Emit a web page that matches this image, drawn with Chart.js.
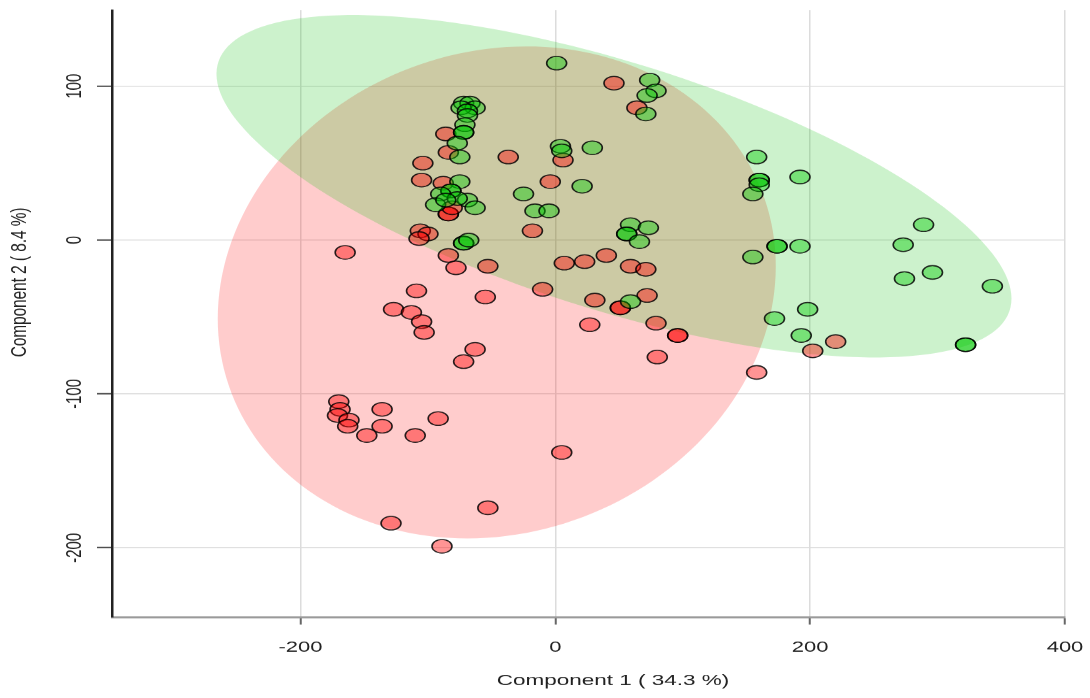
<!DOCTYPE html>
<html>
<head>
<meta charset="utf-8">
<script src="https://cdn.jsdelivr.net/npm/chart.js@4.4.0/dist/chart.umd.min.js"></script>
<style>
    html, body { margin: 0; padding: 0; overflow: hidden; background: #fff; }
    #wrap { width: 1090px; height: 698px; overflow: hidden; }
    /* the reference picture is squashed vertically, so draw tall and squash */
    #pca { display: block; transform: scaleY(0.6803); transform-origin: 0 0; }
</style>
</head>
<body>
<div id="wrap"><canvas id="pca" width="1090" height="1026"></canvas></div>
<script>
// PCA scores, two groups
const redX = [-165, -127, -170, -169, -171, -162, -163, -148, -136, -136, -129, -109, -55, -10, 31, 51, 51, 72, 27, 79,
    96, 96, 80, 158, -113, -105, -103, -63, -72, -92, -110, 5, -53, -89, 202, 220, 46, 64, -86, -84,
    -104, -37, 6, -105, -88, -84, -84, -81, -4, -18, -106, -100, -107, -84, -78, -53, 7, 23, 40, 59, 71];
const redY = [-8, -45, -105, -110, -114, -117, -121, -127, -110, -121, -184, -33, -37, -32, -39, -44, -44, -36, -55, -54,
    -62, -62, -76, -86, -47, -53, -60, -71, -79, -116, -127, -138, -174, -199, -72, -66, 102, 86, 69, 57,
    50, 54, 52, 39, 37, 17, 17, 21, 38, 6, 6, 4, 1, -10, -18, -17, -15, -14, -10, -17, -19];

const greenX = [1, 74, 79, 72, 71, -72, -67, -63, -74, -69, -69, -71, -72, -72, -77, -75, 4, 5, 29, -75,
    -82, -82, -90, -94, -69, -63, -77, -86, 21, -25, -16, -5, 59, 73, 56, 56, 66, -72, -72, -68,
    59, 158, 160, 160, 160, 155, 192, 289, 273, 174, 174, 192, 155, 274, 296, 343, 172, 198, 193, 322, 322];
const greenY = [115, 104, 97, 94, 82, 89, 89, 86, 86, 84, 81, 75, 70, 70, 63, 54, 61, 58, 60, 38,
    32, 32, 30, 23, 26, 21, 27, 26, 35, 30, 19, 19, 10, 8, 4, 4, -1, -2, -2, 0,
    -40, 54, 39, 39, 36, 30, 41, 10, -3, -4, -4, -4, -11, -25, -21, -30, -51, -45, -62, -68, -68];

// confidence ellipses: centre, and two conjugate half axes (data units)
const redEllipseCenter = [-46, -34];
const redEllipseU = [219, 17];
const redEllipseV = [0, 159];
const greenEllipseCenter = [46, 35];
const greenEllipseU = [312, -73];
const greenEllipseV = [0, 84];

const xTicks = [-200, 0, 200, 400];
const yTicks = [-200, -100, 0, 100];
const xTitle = 'Component 1 ( 34.3 %)';
const yTitle = 'Component 2 ( 8.4 %)';

const FONT = 'Liberation Sans, Arial, sans-serif';

const ellipses = [
    { center: redEllipseCenter, u: redEllipseU, v: redEllipseV, color: 'rgba(255, 0, 0, 0.2)' },
    { center: greenEllipseCenter, u: greenEllipseU, v: greenEllipseV, color: 'rgba(0, 190, 0, 0.2)' },
];

const ellipsePlugin = {
    id: 'ellipses',
    beforeDatasetsDraw(chart) {
        const ctx = chart.ctx;
        const xs = chart.scales.x, ys = chart.scales.y;
        const a = chart.chartArea;
        ctx.save();
        ctx.beginPath();
        ctx.rect(a.left, a.top, a.right - a.left, a.bottom - a.top);
        ctx.clip();
        ellipses.forEach(e => {
            ctx.beginPath();
            for (let i = 0; i <= 180; i++) {
                const t = i / 180 * Math.PI * 2;
                const x = e.center[0] + e.u[0] * Math.cos(t) + e.v[0] * Math.sin(t);
                const y = e.center[1] + e.u[1] * Math.cos(t) + e.v[1] * Math.sin(t);
                const px = xs.getPixelForValue(x), py = ys.getPixelForValue(y);
                if (i === 0) ctx.moveTo(px, py); else ctx.lineTo(px, py);
            }
            ctx.closePath();
            ctx.fillStyle = e.color;
            ctx.fill();
        });
        ctx.restore();
    }
};

// axis titles sit a little off-centre in the reference, so place them by hand
const titlePlugin = {
    id: 'axisTitles',
    afterDraw(chart) {
        const ctx = chart.ctx;
        ctx.save();
        ctx.fillStyle = '#222';
        ctx.font = `22.5px ${FONT}`;
        ctx.textAlign = 'center';
        ctx.textBaseline = 'middle';
        ctx.fillText(xTitle, 613, 1001);
        ctx.translate(20, 415);
        ctx.rotate(-Math.PI / 2);
        ctx.fillText(yTitle, 0, 0);
        ctx.restore();
    }
};

const ctx = document.getElementById('pca').getContext('2d');
new Chart(ctx, {
    type: 'scatter',
    data: {
        datasets: [
            {
                label: 'green',
                data: greenX.map((x, i) => ({ x: x, y: greenY[i] })),
                backgroundColor: 'rgba(0, 200, 0, 0.42)',
                borderColor: 'rgba(0, 0, 0, 0.85)',
                borderWidth: 1.6,
                pointRadius: 10,
                pointHoverRadius: 10,
            },
            {
                label: 'red',
                data: redX.map((x, i) => ({ x: x, y: redY[i] })),
                backgroundColor: 'rgba(255, 0, 0, 0.42)',
                borderColor: 'rgba(0, 0, 0, 0.85)',
                borderWidth: 1.6,
                pointRadius: 10,
                pointHoverRadius: 10,
            },
        ],
    },
    options: {
        responsive: false,
        animation: false,
        layout: { padding: { top: 15, right: 25, left: 0, bottom: 0 } },
        plugins: {
            legend: { display: false },
            tooltip: { enabled: false },
        },
        scales: {
            x: {
                type: 'linear',
                min: -348,
                max: 400,
                afterBuildTicks: s => { s.ticks = xTicks.map(v => ({ value: v })); },
                afterFit: s => { s.height = 119; s.paddingLeft = 0; s.paddingRight = 0; },
                grid: { color: '#dcdcdc', lineWidth: 1.5, tickLength: 11, tickColor: '#666', tickWidth: 2 },
                border: { color: '#9a9a9a', width: 3 },
                ticks: { font: { family: FONT, size: 22 }, color: '#222', padding: 21 },
            },
            y: {
                type: 'linear',
                min: -245,
                max: 149.4,
                afterBuildTicks: s => { s.ticks = yTicks.map(v => ({ value: v })); },
                afterFit: s => { s.width = 112; s.paddingTop = 0; s.paddingBottom = 0; },
                grid: { color: '#dcdcdc', lineWidth: 1.5, tickLength: 15, tickColor: '#444', tickWidth: 2 },
                border: { color: '#222', width: 2.5 },
                ticks: {
                    font: { family: FONT, size: 22 }, color: '#222',
                    minRotation: 90, maxRotation: 90, crossAlign: 'center', padding: 0,
                },
            },
        },
    },
    plugins: [ellipsePlugin, titlePlugin],
});
</script>
</body>
</html>
